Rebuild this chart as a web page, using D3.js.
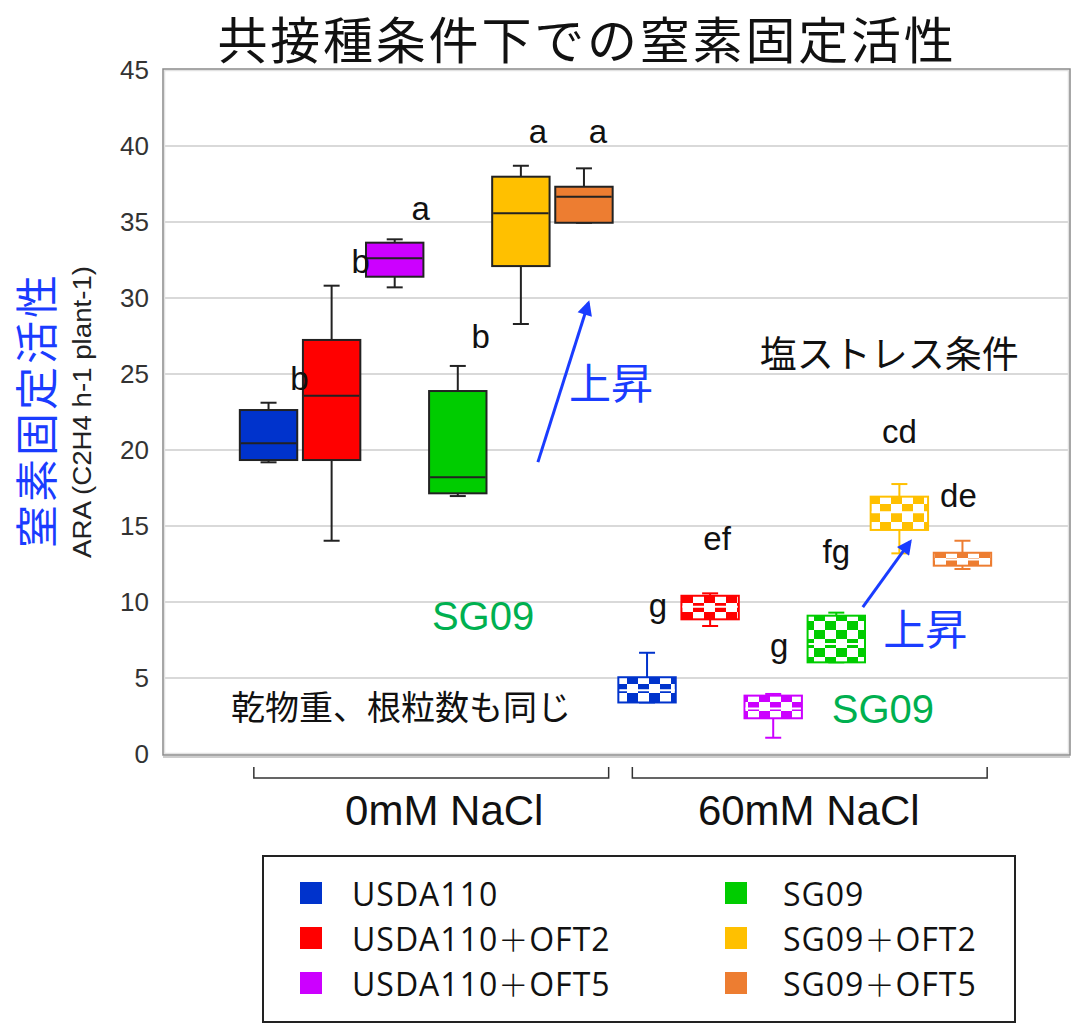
<!DOCTYPE html>
<html><head><meta charset="utf-8">
<script src="https://cdn.jsdelivr.net/npm/d3@7"></script>
<style>
body{margin:0;background:#fff}
svg{display:block}
</style>
</head><body>
<svg id="chart" width="1076" height="1032"></svg>
<script>
// Inoculants, in plotting order within each salt condition
const strains = ["USDA110", "USDA110＋OFT2", "USDA110＋OFT5", "SG09", "SG09＋OFT2", "SG09＋OFT5"];
const conditions = ["0mM NaCl", "60mM NaCl"];
const yTicks = [0, 5, 10, 15, 20, 25, 30, 35, 40, 45];
const strainColors = ["#0033cc", "#ff0000", "#cc00ff", "#00cc00", "#ffc000", "#ed7d31"];

// ARA box summaries, 0 mM NaCl
const whiskerLow0  = [19.19, 14.03, 30.70, 16.97, 28.29, 34.95];
const q1_0         = [19.34, 19.34, 31.40, 17.15, 32.10, 34.95];
const median0      = [20.44, 23.57, 32.61, 18.20, 35.57, 36.66];
const q3_0         = [22.63, 27.24, 33.64, 23.88, 37.98, 37.32];
const whiskerHigh0 = [23.11, 30.81, 33.86, 25.53, 38.70, 38.53];

// ARA box summaries, 60 mM NaCl
const whiskerLow60  = [3.39, 8.42, 1.07, 6.03, 13.20, 12.17];
const q1_60         = [3.39, 8.86, 2.35, 6.03, 14.74, 12.39];
const median60      = [4.20, 9.69, 3.00, 7.24, 15.90, 12.80];
const q3_60         = [5.05, 10.41, 3.84, 9.10, 16.93, 13.24];
const whiskerHigh60 = [6.66, 10.57, 3.95, 9.30, 17.76, 14.03];

// Significance letters
const letters0  = ["b", "b", "a", "b", "a", "a"];
const letters60 = ["g", "ef", "g", "fg", "cd", "de"];

// Build one row per box
const boxes = [];
conditions.forEach((cond, ci) => {
  strains.forEach((s, si) => {
    const lo = ci === 0 ? whiskerLow0 : whiskerLow60;
    const q1 = ci === 0 ? q1_0 : q1_60;
    const md = ci === 0 ? median0 : median60;
    const q3 = ci === 0 ? q3_0 : q3_60;
    const hi = ci === 0 ? whiskerHigh0 : whiskerHigh60;
    const lt = ci === 0 ? letters0 : letters60;
    boxes.push({key: cond + "|" + s, cond: ci, strain: si,
      lo: lo[si], q1: q1[si], med: md[si], q3: q3[si], hi: hi[si], letter: lt[si]});
  });
});

// Letter placement relative to each box centre / whisker top (px)
const letterDx = [31, 29, 26, 23, 17, 14, 11, 7, 6, 0, 0, -4];
const letterLift = [13, 13, 19, 18, 23, 25, 36, 43, 37, 50, 41, 34];

const svg = d3.select("#chart");
const frame = {left: 163, right: 1070, top: 69, bottom: 755};
const sans = "Liberation Sans, Arial, sans-serif";
const cjk = "Noto Sans CJK JP, sans-serif";

const x = d3.scaleBand()
  .domain(boxes.map(d => d.key))
  .range([237, 994])
  .paddingInner(0.09)
  .paddingOuter(0.045);
const y = d3.scaleLinear().domain([0, 45]).range([754, 70]);
const bw = x.bandwidth();
// continuous slot position (0 = first box centre) for free annotations
const slot = d3.scaleLinear().domain([0, 11])
  .range([x(boxes[0].key) + bw / 2, x(boxes[11].key) + bw / 2]);

// Checker fills for the salt-stressed boxes
const defs = svg.append("defs");
strainColors.forEach((c, i) => {
  const p = defs.append("pattern").attr("id", "chk" + i)
    .attr("patternUnits", "userSpaceOnUse").attr("width", 22).attr("height", 18);
  p.append("rect").attr("width", 22).attr("height", 18).attr("fill", "#fff");
  p.append("rect").attr("width", 11).attr("height", 9).attr("fill", c);
  p.append("rect").attr("x", 11).attr("y", 9).attr("width", 11).attr("height", 9).attr("fill", c);
});
const arrowColor = "#1a3cff";
defs.append("marker").attr("id", "arrowHead")
  .attr("viewBox", "0 0 10 10").attr("refX", 8).attr("refY", 5)
  .attr("markerWidth", 6).attr("markerHeight", 5).attr("orient", "auto")
  .append("path").attr("d", "M0,0 L10,5 L0,10 z").attr("fill", arrowColor);

// Gridlines
svg.append("g").selectAll("line").data(yTicks.filter(t => t > 0 && t < 45)).join("line")
  .attr("x1", frame.left + 1).attr("x2", frame.right - 1)
  .attr("y1", d => y(d)).attr("y2", d => y(d))
  .attr("stroke", "#d9d9d9").attr("stroke-width", 2);

// Plot frame with a soft inner shadow
svg.append("rect").attr("x", frame.left + 1.5).attr("y", frame.top + 1.5)
  .attr("width", frame.right - frame.left - 3).attr("height", frame.bottom - frame.top - 3)
  .attr("fill", "none").attr("stroke", "#e2e2e2").attr("stroke-width", 1.5);
svg.append("rect").attr("x", frame.left).attr("y", frame.top)
  .attr("width", frame.right - frame.left).attr("height", frame.bottom - frame.top)
  .attr("fill", "none").attr("stroke", "#8a8a8a").attr("stroke-width", 1.5);
svg.append("line").attr("x1", frame.left).attr("x2", frame.right)
  .attr("y1", frame.bottom + 2).attr("y2", frame.bottom + 2)
  .attr("stroke", "#bdbdbd").attr("stroke-width", 1.5);

// Y axis tick labels
const yAxis = d3.axisLeft(y).tickValues(yTicks).tickSize(0).tickPadding(0);
const yg = svg.append("g").attr("transform", "translate(149,0)").call(yAxis);
yg.select(".domain").remove();
yg.selectAll("text").attr("font-family", sans)
  .attr("font-size", 26).attr("fill", "#333");

// Boxes
const g = svg.append("g");
const bx = g.selectAll("g.box").data(boxes).join("g").attr("class", "box");
const stroke = d => d.cond === 0 ? "#222" : strainColors[d.strain];
const cx = d => x(d.key) + bw / 2;
const capW = 16;
bx.append("line").attr("x1", cx).attr("x2", cx)
  .attr("y1", d => y(d.hi)).attr("y2", d => y(d.q3))
  .attr("stroke", stroke).attr("stroke-width", 2);
bx.append("line").attr("x1", cx).attr("x2", cx)
  .attr("y1", d => y(d.q1)).attr("y2", d => y(d.lo))
  .attr("stroke", stroke).attr("stroke-width", 2);
bx.append("line").attr("x1", d => cx(d) - capW / 2).attr("x2", d => cx(d) + capW / 2)
  .attr("y1", d => y(d.hi)).attr("y2", d => y(d.hi))
  .attr("stroke", stroke).attr("stroke-width", 2);
bx.append("line").attr("x1", d => cx(d) - capW / 2).attr("x2", d => cx(d) + capW / 2)
  .attr("y1", d => y(d.lo)).attr("y2", d => y(d.lo))
  .attr("stroke", stroke).attr("stroke-width", 2);
bx.append("rect").attr("x", d => x(d.key)).attr("width", bw)
  .attr("y", d => y(d.q3)).attr("height", d => y(d.q1) - y(d.q3))
  .attr("fill", d => d.cond === 0 ? strainColors[d.strain] : `url(#chk${d.strain})`)
  .attr("stroke", stroke).attr("stroke-width", 2);
bx.append("line").attr("x1", d => x(d.key) + 1).attr("x2", d => x(d.key) + bw - 1)
  .attr("y1", d => y(d.med)).attr("y2", d => y(d.med))
  .attr("stroke", d => d.cond === 0 ? "#222" : "#fff").attr("stroke-width", 2);

// Letters
g.selectAll("text.letter").data(boxes).join("text").attr("class", "letter")
  .attr("x", (d, i) => cx(d) + letterDx[i])
  .attr("y", (d, i) => y(d.hi) - letterLift[i])
  .attr("text-anchor", "middle")
  .attr("font-family", sans).attr("font-size", 33)
  .attr("fill", "#111")
  .text(d => d.letter);

// Condition brackets and labels
const labelShift = [13, -1];
conditions.forEach((c, ci) => {
  const first = boxes[ci * 6], last = boxes[ci * 6 + 5];
  const x0 = x(first.key) + 14, x1 = x(last.key) + bw - 4;
  svg.append("path").attr("d", `M${x0},767 V778 H${x1} V767`)
    .attr("fill", "none").attr("stroke", "#333").attr("stroke-width", 1.5);
  svg.append("text").attr("x", (x0 + x1) / 2 + labelShift[ci]).attr("y", 825)
    .attr("text-anchor", "middle")
    .attr("font-family", sans).attr("font-size", 42)
    .attr("fill", "#111").text(c);
});

// Annotations
[[4.27, 19.2, 5.07, 29.67], [9.42, 9.67, 10.17, 13.97]].forEach(a => {
  svg.append("line").attr("x1", slot(a[0])).attr("y1", y(a[1]))
    .attr("x2", slot(a[2])).attr("y2", y(a[3]))
    .attr("stroke", arrowColor).attr("stroke-width", 3)
    .attr("marker-end", "url(#arrowHead)");
});
const notes = [
  {t: "上昇", s: 5.43, v: 24.54, size: 42, fill: arrowColor, font: cjk, central: true},
  {t: "上昇", s: 10.41, v: 8.36, size: 42, fill: arrowColor, font: cjk, central: true},
  {t: "塩ストレス条件", s: 9.84, v: 26.45, size: 37, fill: "#111", font: cjk, central: true},
  {t: "乾物重、根粒数も同じ", s: 2.10, v: 3.22, size: 34, fill: "#111", font: cjk, central: true},
  {t: "SG09", s: 3.40, v: 8.16, size: 40, fill: "#00b050", font: sans},
  {t: "SG09", s: 9.74, v: 2.04, size: 40, fill: "#00b050", font: sans}
];
svg.selectAll("text.note").data(notes).join("text").attr("class", "note")
  .attr("x", d => slot(d.s)).attr("y", d => y(d.v))
  .attr("text-anchor", "middle")
  .attr("dominant-baseline", d => d.central ? "central" : null)
  .attr("font-family", d => d.font).attr("font-size", d => d.size)
  .attr("fill", d => d.fill).text(d => d.t);

// Title
svg.append("text").attr("x", 587).attr("y", 59).attr("text-anchor", "middle")
  .attr("font-family", cjk).attr("font-size", 50).attr("letter-spacing", 2.8)
  .attr("fill", "#111")
  .text("共接種条件下での窒素固定活性");

// Axis titles
svg.append("text").attr("transform", "translate(34,410) rotate(-90)")
  .attr("text-anchor", "middle").attr("dominant-baseline", "central")
  .attr("font-family", cjk).attr("font-size", 43).attr("letter-spacing", 3)
  .attr("fill", arrowColor)
  .text("窒素固定活性");
svg.append("text").attr("transform", "translate(82,412) rotate(-90)")
  .attr("text-anchor", "middle").attr("dominant-baseline", "central")
  .attr("font-family", sans).attr("font-size", 25).attr("fill", "#222")
  .attr("textLength", 292).attr("lengthAdjust", "spacingAndGlyphs")
  .text("ARA (C2H4 h-1 plant-1)");

// Legend
const lg = svg.append("g");
lg.append("rect").attr("x", 263).attr("y", 856).attr("width", 752).attr("height", 166)
  .attr("fill", "#fff").attr("stroke", "#222").attr("stroke-width", 2);
const li = lg.selectAll("g.item").data(strains).join("g").attr("class", "item")
  .attr("transform", (d, i) => `translate(${i < 3 ? 300 : 725},${893 + (i % 3) * 45})`);
li.append("rect").attr("x", 0).attr("y", -11).attr("width", 22).attr("height", 22)
  .attr("fill", (d, i) => strainColors[i]);
const lt = li.append("text").attr("x", (d, i) => i < 3 ? 52 : 58).attr("y", 0)
  .attr("dominant-baseline", "central")
  .attr("font-family", "Open Sans, sans-serif").attr("font-size", 32)
  .attr("letter-spacing", 1).attr("fill", "#111");
lt.each(function(d) {
  const parts = d.split("＋");
  const t = d3.select(this);
  t.append("tspan").text(parts[0]);
  if (parts.length > 1) {
    t.append("tspan").attr("font-family", cjk).attr("font-weight", 300).attr("font-size", 30).text("＋");
    t.append("tspan").text(parts[1]);
  }
});
</script>
</body></html>
